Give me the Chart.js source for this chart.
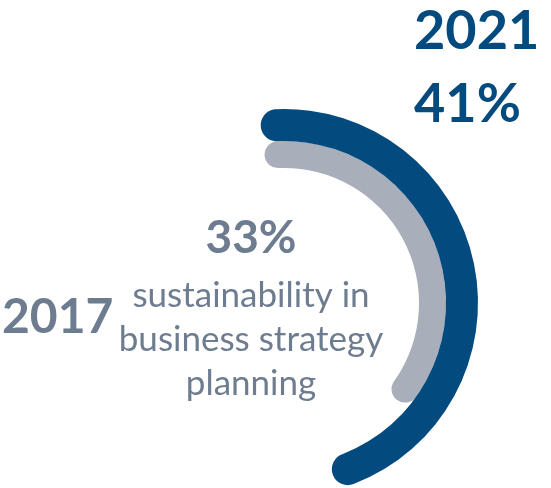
<!DOCTYPE html>
<html>
<head>
<meta charset="utf-8">
<script src="https://cdn.jsdelivr.net/npm/chart.js@4.4.0/dist/chart.umd.min.js"></script>
<style>
  html, body { margin: 0; padding: 0; background: #fff; overflow: hidden; }
  body { width: 551px; height: 488px; }
  canvas { display: block; }
</style>
</head>
<body>
<canvas id="ring" width="551" height="560"></canvas>
<script>
// Survey share per year, outer ring first
const years = ['2021', '2017'];
const shares = [41, 33];
const gaugeMax = 86;
const captionLines = ['sustainability in', 'business strategy', 'planning'];

const ringColors = ['#034a7e', '#a8afba'];
const textColors = ['#034a7e', '#6e7c90'];
const ringWeights = [32, 27];
const FONT = 'Lato, "Open Sans", sans-serif';

// Year / percentage labels drawn over the rings
const ringLabels = {
    id: 'ringLabels',
    afterDraw(chart) {
        const ctx = chart.ctx;
        ctx.save();
        ctx.textBaseline = 'alphabetic';

        ctx.fillStyle = textColors[0];
        ctx.font = `bold 54px ${FONT}`;
        ctx.textAlign = 'left';
        ctx.fillText(years[0], 414, 49);
        ctx.fillText(shares[0] + '%', 414, 122);

        ctx.fillStyle = textColors[1];
        ctx.font = `bold 48px ${FONT}`;
        ctx.fillText(years[1], 2, 333);

        ctx.textAlign = 'center';
        ctx.font = `bold 46px ${FONT}`;
        ctx.fillText(shares[1] + '%', 251, 253);

        ctx.font = `35px ${FONT}`;
        captionLines.forEach((line, i) => ctx.fillText(line, 251, 307 + i * 44));
        ctx.restore();
    }
};

const datasets = shares.map((value, i) => ({
    label: years[i],
    data: [value, gaugeMax - value],
    backgroundColor: [ringColors[i], 'rgba(0, 0, 0, 0)'],
    borderWidth: 0,
    borderRadius: [20, 0],
    weight: ringWeights[i]
}));

new Chart(document.getElementById('ring'), {
    type: 'doughnut',
    data: {
        labels: ['share', 'rest'],
        datasets: datasets
    },
    options: {
        responsive: false,
        animation: false,
        events: [],
        rotation: -7.5,
        circumference: 360,
        cutout: '69.6%',
        layout: {
            padding: { left: 90, top: 109, right: 73, bottom: 63 }
        },
        plugins: {
            legend: { display: false },
            tooltip: { enabled: false }
        }
    },
    plugins: [ringLabels]
});
</script>
</body>
</html>
